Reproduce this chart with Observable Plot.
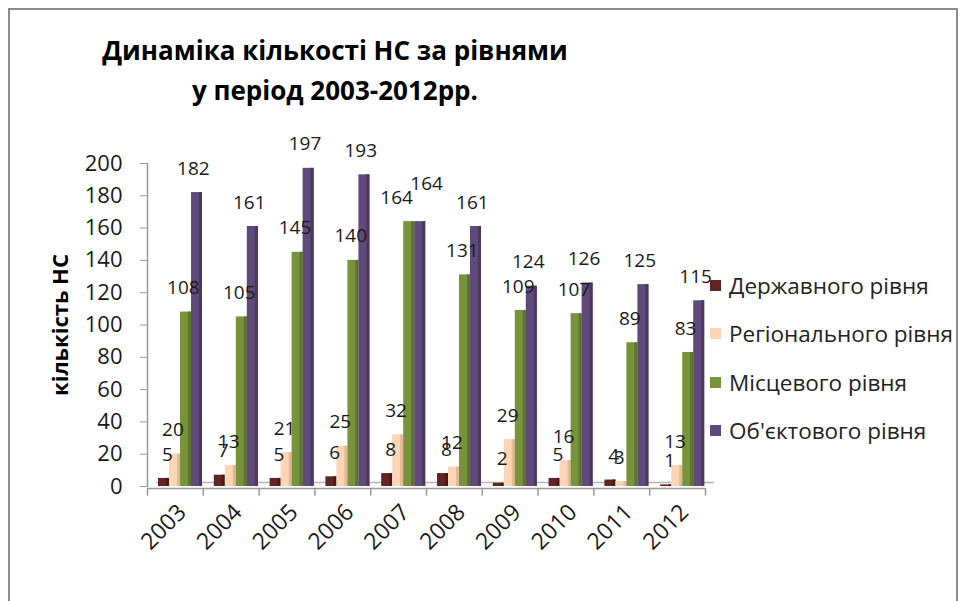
<!DOCTYPE html>
<html><head><meta charset="utf-8">
<script src="https://cdn.jsdelivr.net/npm/d3@7"></script>
<script src="https://cdn.jsdelivr.net/npm/@observablehq/plot@0.6"></script>
<style>
body{margin:0;background:#fff;font-family:"Open Sans",sans-serif;}
#wrap{position:relative;width:969px;height:601px;overflow:hidden;}
#frame{position:absolute;left:8px;top:8px;width:950px;height:620px;border:2px solid #8c8c8c;box-sizing:border-box}
#title{position:absolute;left:0;top:30px;width:670px;text-align:center;font-weight:bold;font-size:26px;line-height:40px;color:#000}
#chart{position:absolute;left:0;top:130px}
#legend{position:absolute;left:710px;top:261px}
.item{display:flex;align-items:center;height:48.5px;font-size:22.5px;color:#222;white-space:nowrap}
.sw{width:11px;height:11px;margin-right:8px}
</style></head><body>
<div id="wrap"><div id="frame"></div><div id="title">Динаміка кількості НС за рівнями<br>у період 2003-2012рр.</div><div id="chart"></div><div id="legend"></div></div>
<script>
const years = ["2003","2004","2005","2006","2007","2008","2009","2010","2011","2012"];
const seriesNames = ["Державного рівня","Регіонального рівня","Місцевого рівня","Об'єктового рівня"];
const derzhavnoho = [5,7,5,6,8,8,2,5,4,1];
const rehionalnoho = [20,13,21,25,32,12,29,16,3,13];
const mistsevoho = [108,105,145,140,164,131,109,107,89,83];
const obiektovoho = [182,161,197,193,164,161,124,126,125,115];
const yTicks = [0,20,40,60,80,100,120,140,160,180,200];
const yLabel = "кількість НС";

const colors = ["#632523","#FCD5B5","#77933C","#604A7B"];
const sides = ["#4a1a19","#e3b996","#5d7430","#4a385f"];
const tops = ["#7d3533","#fde3cc","#8fab55","#7a6494"];
const seriesValues = [derzhavnoho, rehionalnoho, mistsevoho, obiektovoho];

const W = 710, H = 460, ML = 147, MR = 5, MT = 33, MB = 104;
const bw = (W - ML - MR) / years.length;
const barW = 11, lead = 11;
const labelDx = [-8, -2.5, 8, 18];

const marks = [];
// back edge of the floor
marks.push(Plot.ruleY([0], {dx: 9, dy: -4, stroke: "#b5b5b5", strokeWidth: 1.5}));
const labelMarks = [];
seriesValues.forEach((vals, i) => {
  const data = years.map((y, k) => {
    const next = seriesValues[i + 1], prev = seriesValues[i - 1];
    const clashNext = next && Math.abs(next[k] - vals[k]) < 8 && vals[k] > 40;
    const clashPrev = prev && Math.abs(prev[k] - vals[k]) < 8 && vals[k] > 40;
    return {year: y, value: vals[k], shift: clashNext ? -1 : clashPrev ? 1 : 0};
  });
  const left = lead + barW * i;
  const right = bw - (left + barW);
  marks.push(Plot.barY(data, {x: "year", y: "value", fill: colors[i], insetLeft: left, insetRight: right}));
  marks.push(Plot.barY(data, {x: "year", y: "value", fill: sides[i], insetLeft: left + barW - 3, insetRight: right}));
  marks.push(Plot.barY(data, {x: "year", y1: "value", y2: "value", stroke: tops[i], strokeWidth: 2, insetLeft: left + 1, insetRight: right}));
  const common = {x: "year", y: "value", text: d => String(d.value), fontSize: 19, fill: "#1a1a1a"};
  labelMarks.push(Plot.text(data.filter(d => d.shift === 0), {...common, dx: labelDx[i], dy: -24}));
  labelMarks.push(Plot.text(data.filter(d => d.shift === -1), {...common, dx: labelDx[i] - 10, dy: -24}));
  labelMarks.push(Plot.text(data.filter(d => d.shift === 1), {...common, dx: labelDx[i] + 10, dy: -38}));
});
marks.push(...labelMarks);
// front edge of the floor and category ticks
marks.push(Plot.ruleY([0], {dy: 2, stroke: "#9a9a9a", strokeWidth: 1.5}));
marks.push(Plot.ruleX(years, {dx: -bw / 2, y1: -1.3, y2: -6, stroke: "#9a9a9a", strokeWidth: 1.5}));
marks.push(Plot.ruleX([years[years.length - 1]], {dx: bw / 2, y1: -1.3, y2: -6, stroke: "#9a9a9a", strokeWidth: 1.5}));
marks.push(Plot.frame({anchor: "left", stroke: "#9a9a9a", strokeWidth: 1.5}));
marks.push(Plot.axisY({ticks: yTicks, tickSize: 7, tickPadding: 18, fontSize: 22, label: null, stroke: "#9a9a9a"}));
marks.push(Plot.axisX({tickRotate: -45, tickSize: 0, tickPadding: 22, fontSize: 23, dx: 7, label: null}));
marks.push(Plot.text([yLabel], {frameAnchor: "left", textAnchor: "middle", rotate: -90, dx: -87, fontWeight: "bold", fontSize: 22, fill: "#000"}));

const chart = Plot.plot({
  width: W, height: H, marginLeft: ML, marginRight: MR, marginTop: MT, marginBottom: MB,
  style: {fontFamily: "'Open Sans', sans-serif", color: "#1a1a1a", background: "transparent", overflow: "visible"},
  x: {domain: years, padding: 0, round: false},
  y: {domain: [0, 200]},
  marks
});
document.getElementById("chart").appendChild(chart);

const legend = document.getElementById("legend");
seriesNames.forEach((n, i) => {
  const it = document.createElement("div"); it.className = "item";
  const sw = document.createElement("span"); sw.className = "sw"; sw.style.background = colors[i];
  const t = document.createElement("span"); t.textContent = n;
  it.appendChild(sw); it.appendChild(t); legend.appendChild(it);
});
</script></body></html>
